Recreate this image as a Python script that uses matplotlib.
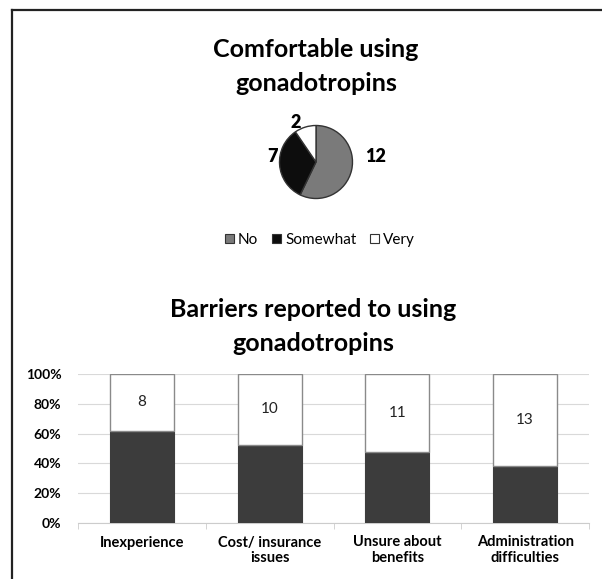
import matplotlib
matplotlib.use("Agg")
import matplotlib.pyplot as plt
from matplotlib.lines import Line2D
from matplotlib.patches import Patch
import numpy as np

plt.rcParams['font.family'] = ['Lato', 'DejaVu Sans']

# Data
pie_labels = ["No", "Somewhat", "Very"]
pie_values = [12, 7, 2]
pie_colors = ["#7a7a7a", "#0d0d0d", "#ffffff"]

categories = ["Inexperience", "Cost/ insurance\nissues", "Unsure about\nbenefits", "Administration\ndifficulties"]
dark_counts = [13, 11, 10, 8]
white_counts = [8, 10, 11, 13]
yticks = [0, 0.2, 0.4, 0.6, 0.8, 1.0]
ytick_labels = ["0%", "20%", "40%", "60%", "80%", "100%"]

W, H = 602, 579
fig = plt.figure(figsize=(W / 100, H / 100), dpi=100)

def fx(px):
    return px / W

def fy(py):
    return 1 - py / H

# Border lines (left and top)
fig.add_artist(Line2D([fx(12), fx(12)], [fy(10), 0], color="#222222", lw=1.6, transform=fig.transFigure))
fig.add_artist(Line2D([fx(12), 1], [fy(10), fy(10)], color="#222222", lw=1.6, transform=fig.transFigure))

# Titles
fig.text(fx(316), fy(57), "Comfortable using", ha="center", va="baseline", fontsize=18, fontweight="bold")
fig.text(fx(316), fy(91), "gonadotropins", ha="center", va="baseline", fontsize=18, fontweight="bold")
fig.text(fx(313), fy(317), "Barriers reported to using", ha="center", va="baseline", fontsize=18, fontweight="bold")
fig.text(fx(313), fy(351), "gonadotropins", ha="center", va="baseline", fontsize=18, fontweight="bold")

# Pie
r = 36.5
cx, cy = 316, 162
pax = fig.add_axes([fx(cx - r), fy(cy + r), 2 * r / W, 2 * r / H])
wedges, _ = pax.pie(pie_values, colors=pie_colors, startangle=90, counterclock=False,
                    wedgeprops=dict(edgecolor="#333333", linewidth=1.0))
pax.set_xlim(-1, 1)
pax.set_ylim(-1, 1)
pax.set_aspect("equal")
pax.axis("off")

# Pie value labels
label_pos = [(376, 156), (273, 157), (296, 122)]
for v, (lx, ly) in zip(pie_values, label_pos):
    fig.text(fx(lx), fy(ly), str(v), ha="center", va="center", fontsize=13, fontweight="heavy")

# Legend
handles = [Patch(facecolor=c, edgecolor="#333333", linewidth=0.8) for c in pie_colors]
leg = fig.legend(handles, pie_labels, loc="center", bbox_to_anchor=(fx(320), fy(240)),
                 ncol=3, frameon=False, fontsize=11, handlelength=0.6, handleheight=0.6,
                 handletextpad=0.25, columnspacing=0.9, borderpad=0)

# Bars
bx0, bx1, by0, by1 = 78, 589, 374, 523
bax = fig.add_axes([fx(bx0), fy(by1), (bx1 - bx0) / W, (by1 - by0) / H])
x = np.arange(len(categories))
tot = np.array(dark_counts) + np.array(white_counts)
dark_frac = np.array(dark_counts) / tot
white_frac = np.array(white_counts) / tot
bax.bar(x, dark_frac, width=0.5, color="#3c3c3c", edgecolor="#3c3c3c", linewidth=0.8, zorder=3)
bax.bar(x, white_frac, bottom=dark_frac, width=0.5, color="white", edgecolor="#8a8a8a", linewidth=1.0, zorder=3)
for xi, d, w, n in zip(x, dark_frac, white_frac, white_counts):
    bax.text(xi, d + w / 2, str(n), ha="center", va="center",
             fontsize=11, color="#222222", zorder=4)
bax.set_xlim(-0.5, len(categories) - 0.5)
bax.set_ylim(0, 1)
bax.set_yticks(yticks)
bax.set_yticklabels(ytick_labels, fontsize=10, fontweight="bold")
bax.set_xticks(x)
bax.set_xticklabels(categories, fontsize=10.5, fontweight="bold", linespacing=1.1)
bax.tick_params(axis="x", length=0, pad=9)
bax.tick_params(axis="y", length=0, pad=12)
bax.set_xticks(np.arange(-0.5, len(categories), 1), minor=True)
bax.tick_params(axis="x", which="minor", length=4, color="#cccccc")
bax.yaxis.grid(True, color="#d9d9d9", linewidth=0.8, zorder=0)
for s in ["top", "right", "left"]:
    bax.spines[s].set_visible(False)
bax.spines["bottom"].set_color("#cccccc")

fig.savefig("out.png", dpi=100, facecolor="white")
